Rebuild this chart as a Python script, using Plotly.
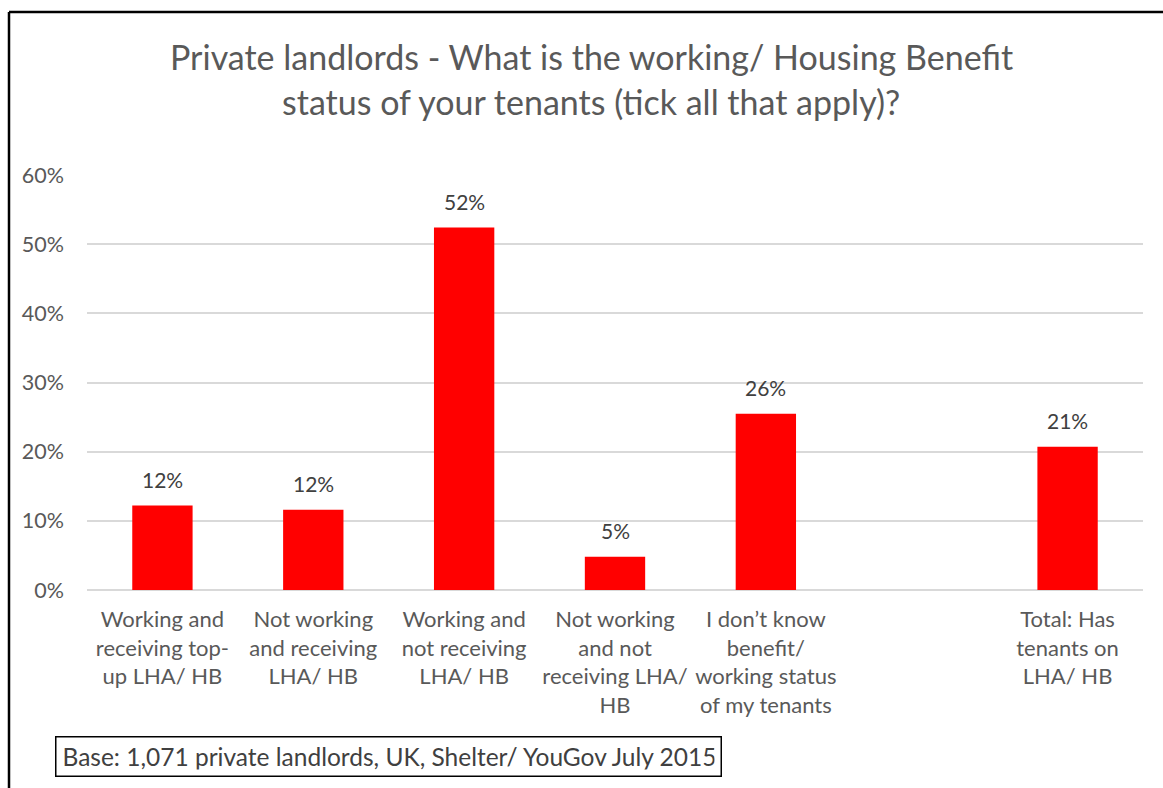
import plotly.graph_objects as go

# Survey answers (share of private landlords); one blank slot separates the total
categories = [
    "Working and<br>receiving top-<br>up LHA/ HB",
    "Not working<br>and receiving<br>LHA/ HB",
    "Working and<br>not receiving<br>LHA/ HB",
    "Not working<br>and not<br>receiving LHA/<br>HB",
    "I don’t know<br>benefit/<br>working status<br>of my tenants",
    " ",
    "Total: Has<br>tenants on<br>LHA/ HB",
]
values = [12.2, 11.6, 52.4, 4.8, 25.5, None, 20.7]

y_ticks = [0, 10, 20, 30, 40, 50, 60]
y_tick_labels = [f"{t}%" for t in y_ticks]

title_lines = [
    "Private landlords - What is the working/ Housing Benefit",
    "status of your tenants (tick all that apply)?",
]
base_note = "Base: 1,071 private landlords, UK, Shelter/ YouGov July 2015"

FONT = "Lato, 'Open Sans', sans-serif"
W, H = 1163, 788
M_L, M_R, M_T, M_B = 87, 20, 175, 198
PW = W - M_L - M_R
PH = H - M_T - M_B


def px_x(px):
    return (px - M_L) / PW


def px_y(py):
    return (H - M_B - py) / PH


fig = go.Figure()
fig.add_trace(go.Bar(
    x=categories,
    y=values,
    marker=dict(color="#FF0000", line=dict(width=0)),
    hoverinfo="skip",
))

annotations = []
# value labels above each bar
for cat, v in zip(categories, values):
    if v is None:
        continue
    annotations.append(dict(
        x=cat, y=v, xref="x", yref="y",
        text=f"{v:.0f}%", showarrow=False,
        yanchor="bottom", yshift=12,
        font=dict(family=FONT, size=21, color="#404040"),
    ))

# two-line chart title
for i, line in enumerate(title_lines):
    annotations.append(dict(
        x=px_x(591), y=px_y(56 + 45 * i), xref="paper", yref="paper",
        text=line, showarrow=False, xanchor="center", yanchor="middle",
        font=dict(family=FONT, size=34, color="#595959"),
    ))

# source note in a framed box
annotations.append(dict(
    x=px_x(388), y=px_y(756), xref="paper", yref="paper",
    text=base_note, showarrow=False, xanchor="center", yanchor="middle",
    align="left", width=652, height=26, borderpad=6,
    bordercolor="#000000", borderwidth=1.5, bgcolor="white",
    font=dict(family=FONT, size=24.5, color="#404040"),
))

# outer chart frame (top and left edges visible)
shapes = [
    dict(type="line", xref="paper", yref="paper",
         x0=px_x(9), x1=px_x(1175), y0=px_y(12), y1=px_y(12),
         line=dict(color="#000000", width=2.5)),
    dict(type="line", xref="paper", yref="paper",
         x0=px_x(9), x1=px_x(9), y0=px_y(12), y1=px_y(800),
         line=dict(color="#000000", width=2.5)),
]

fig.update_layout(
    width=W, height=H,
    margin=dict(l=M_L, r=M_R, t=M_T, b=M_B),
    paper_bgcolor="white", plot_bgcolor="white",
    showlegend=False,
    bargap=0.6,
    annotations=annotations,
    shapes=shapes,
    xaxis=dict(
        type="category",
        tickfont=dict(family=FONT, size=22, color="#595959"),
        showgrid=False, showline=False, ticks="",
        ticklabelstandoff=14,
    ),
    yaxis=dict(
        range=[0, 60],
        tickvals=y_ticks, ticktext=y_tick_labels,
        tickfont=dict(family=FONT, size=21.5, color="#595959"),
        showgrid=True, gridcolor="#D9D9D9", gridwidth=1.5,
        zeroline=True, zerolinecolor="#D9D9D9", zerolinewidth=1.5,
        showline=False, ticks="", ticklabelstandoff=22,
    ),
)

fig.write_html("out.html")
